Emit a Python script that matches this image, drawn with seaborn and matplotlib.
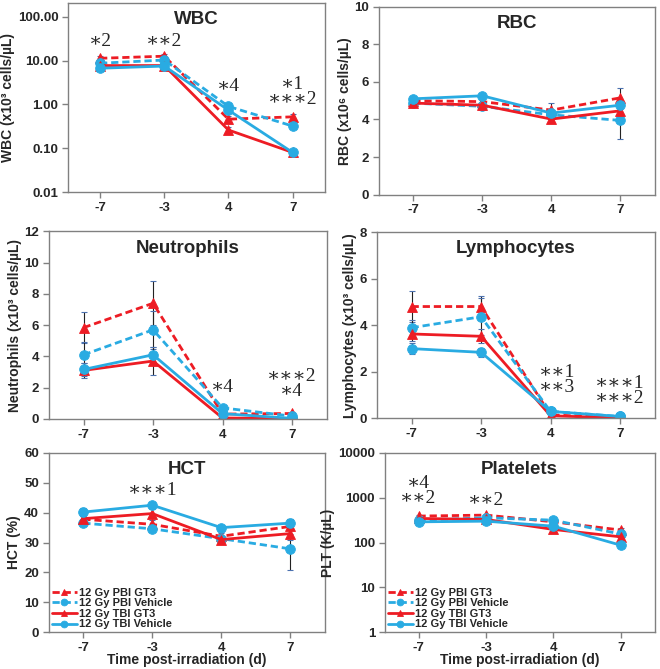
import matplotlib
matplotlib.use("Agg")
import matplotlib.pyplot as plt
import pandas as pd
import seaborn as sns

sns.set_theme(style="white")
plt.rcParams["font.family"] = ["Liberation Sans", "DejaVu Sans"]
plt.rcParams["font.weight"] = "bold"

days = ["-7", "-3", "4", "7"]
groups = ["12 Gy PBI GT3", "12 Gy PBI Vehicle", "12 Gy TBI GT3", "12 Gy TBI Vehicle"]

# means / errors, one row per group (same order as groups)
wbc_mean = [[11.3, 12.6, 0.46, 0.52], [8.7, 10.3, 0.90, 0.32],
            [7.7, 7.7, 0.26, 0.08], [6.7, 7.5, 0.74, 0.08]]
wbc_err = [[1.5, 1.5, 0.08, 0.07], [1.0, 1.2, 0.12, 0.04],
           [0.8, 0.8, 0.04, 0.012], [0.6, 0.8, 0.10, 0.012]]

rbc_mean = [[5.0, 4.95, 4.5, 5.15], [4.87, 4.7, 4.25, 3.95],
            [4.87, 4.76, 4.02, 4.46], [5.1, 5.26, 4.34, 4.76]]
rbc_err = [[0.15, 0.15, 0.4, 0.5], [0.1, 0.1, 0.2, 1.0],
           [0.1, 0.1, 0.1, 0.2], [0.15, 0.1, 0.15, 0.2]]

neu_mean = [[5.84, 7.4, 0.3, 0.34], [4.1, 5.7, 0.7, 0.17],
            [3.1, 3.7, 0.05, 0.02], [3.16, 4.1, 0.33, 0.03]]
neu_err = [[1.0, 1.4, 0.1, 0.1], [0.8, 1.2, 0.15, 0.05],
           [0.5, 0.9, 0.02, 0.01], [0.4, 0.5, 0.08, 0.01]]

lym_mean = [[4.8, 4.8, 0.14, 0.01], [3.89, 4.36, 0.29, 0.07],
            [3.62, 3.52, 0.1, 0.01], [2.99, 2.83, 0.29, 0.07]]
lym_err = [[0.65, 0.45, 0.03, 0.01], [0.35, 0.8, 0.05, 0.02],
           [0.3, 0.3, 0.02, 0.01], [0.25, 0.2, 0.04, 0.02]]

hct_mean = [[37.8, 36.1, 32.1, 35.4], [36.5, 34.6, 31.3, 27.9],
            [38.0, 39.7, 31.0, 33.0], [40.2, 42.5, 35.0, 36.5]]
hct_err = [[1.0, 1.5, 1.0, 2.5], [0.8, 1.0, 1.0, 7.0],
           [1.0, 1.5, 1.0, 2.0], [1.2, 0.8, 1.0, 1.5]]

plt_mean = [[390, 410, 290, 190], [316, 357, 316, 154],
            [345, 328, 196, 134], [290, 300, 232, 87]]
plt_err = [[30, 30, 30, 25], [30, 30, 25, 20],
           [30, 25, 30, 15], [25, 25, 25, 8]]

red = "#ED1C24"
blue = "#29ABE2"
palette = dict(zip(groups, [red, blue, red, blue]))
markers = dict(zip(groups, ["^", "o", "^", "o"]))
dashes = dict(zip(groups, [(2.6, 1.4), (2.6, 1.4), "", ""]))
frame = "#808080"
star_font = ["Liberation Serif", "DejaVu Serif"]


def panel(ax, title, mean, err, ylabel, ylim, yticks, yticklabels=None,
          log=False, legend=False, xlabel=None, notes=()):
    df = pd.DataFrame([(g, i, mean[k][i]) for k, g in enumerate(groups)
                       for i in range(len(days))], columns=["group", "pos", "val"])
    for k, g in enumerate(groups):
        ax.errorbar(range(len(days)), mean[k], yerr=err[k], fmt="none",
                    ecolor="#222222", elinewidth=0.8, capsize=2, capthick=0.8,
                    zorder=1)
    sns.lineplot(data=df, x="pos", y="val", hue="group", style="group",
                 hue_order=groups, style_order=groups, palette=palette,
                 markers=markers, dashes=dashes, markersize=7, linewidth=2,
                 markeredgewidth=0.6, ax=ax, legend=legend, zorder=2)
    for ln in ax.lines:
        ln.set_markeredgecolor(ln.get_color())
    if log:
        ax.set_yscale("log")
    ax.set_ylim(*ylim)
    ax.set_xlim(-0.5, 3.5)
    ax.set_yticks(yticks)
    ax.set_yticklabels(yticklabels if yticklabels else [str(t) for t in yticks])
    ax.minorticks_off()
    ax.set_xticks(range(len(days)))
    ax.set_xticklabels(days)
    ax.tick_params(axis="both", which="both", direction="out", length=4,
                   width=1, color=frame, labelsize=9.5, pad=3,
                   bottom=True, left=True, top=False, right=False)
    for lab in ax.get_xticklabels() + ax.get_yticklabels():
        lab.set_fontweight("bold")
    for sp in ax.spines.values():
        sp.set_color(frame)
        sp.set_linewidth(1)
    ax.set_ylabel(ylabel, fontsize=10, fontweight="bold", labelpad=2)
    ax.set_xlabel(xlabel if xlabel else "", fontsize=10, fontweight="bold",
                  labelpad=-1)
    ax.text(0.5, 0.91, title, transform=ax.transAxes, ha="center", va="center",
            fontsize=13.5, fontweight="bold")
    for x, y, s in notes:
        ax.text(x, y, s, ha="center", va="center", fontsize=14,
                family=star_font, fontweight="normal", linespacing=0.85)
    if legend:
        h, l = ax.get_legend_handles_labels()
        ax.legend(h, l, loc="lower left", frameon=False,
                  prop={"weight": "bold", "size": 8}, handlelength=2.3,
                  handletextpad=0.2, labelspacing=0.05, borderaxespad=0.15,
                  borderpad=0.1, markerscale=0.7)


fig = plt.figure(figsize=(6.6, 6.69), dpi=100)
ax1 = fig.add_axes([0.103, 0.713, 0.389, 0.283])
ax2 = fig.add_axes([0.574, 0.709, 0.418, 0.281])
ax3 = fig.add_axes([0.074, 0.374, 0.421, 0.280])
ax4 = fig.add_axes([0.571, 0.375, 0.421, 0.278])
ax5 = fig.add_axes([0.074, 0.055, 0.418, 0.268])
ax6 = fig.add_axes([0.583, 0.055, 0.409, 0.268])

panel(ax1, "WBC", wbc_mean, wbc_err, "WBC (x10³ cells/µL)", (0.01, 210),
      [0.01, 0.1, 1, 10, 100], ["0.01", "0.10", "1.00", "10.00", "100.00"],
      log=True,
      notes=[(0, 27, "∗2"), (1, 27, "∗∗2"), (2, 2.57, "∗4"),
             (3, 1.95, "∗1\n∗∗∗2")])
panel(ax2, "RBC", rbc_mean, rbc_err, "RBC (x10⁶ cells/µL)", (0, 10),
      [0, 2, 4, 6, 8, 10])
panel(ax3, "Neutrophils", neu_mean, neu_err, "Neutrophils (x10³ cells/µL)",
      (0, 12), [0, 2, 4, 6, 8, 10, 12],
      notes=[(2, 2.0, "∗4"), (3, 2.22, "∗∗∗2\n∗4")])
panel(ax4, "Lymphocytes", lym_mean, lym_err, "Lymphocytes (x10³ cells/µL)",
      (0, 8), [0, 2, 4, 6, 8],
      notes=[(2.1, 1.66, "∗∗1\n∗∗3"), (3, 1.18, "∗∗∗1\n∗∗∗2")])
panel(ax5, "HCT", hct_mean, hct_err, "HCT (%)", (0, 60),
      [0, 10, 20, 30, 40, 50, 60], legend=True,
      xlabel="Time post-irradiation (d)",
      notes=[(1, 47.5, "∗∗∗1")])
panel(ax6, "Platelets", plt_mean, plt_err, "PLT (K/µL)", (1, 10000),
      [1, 10, 100, 1000, 10000], ["1", "10", "100", "1000", "10000"],
      log=True, legend=True, xlabel="Time post-irradiation (d)",
      notes=[(0, 1380, "∗4\n∗∗2"), (1, 890, "∗∗2")])

fig.savefig("out.png", dpi=100, facecolor="white")
